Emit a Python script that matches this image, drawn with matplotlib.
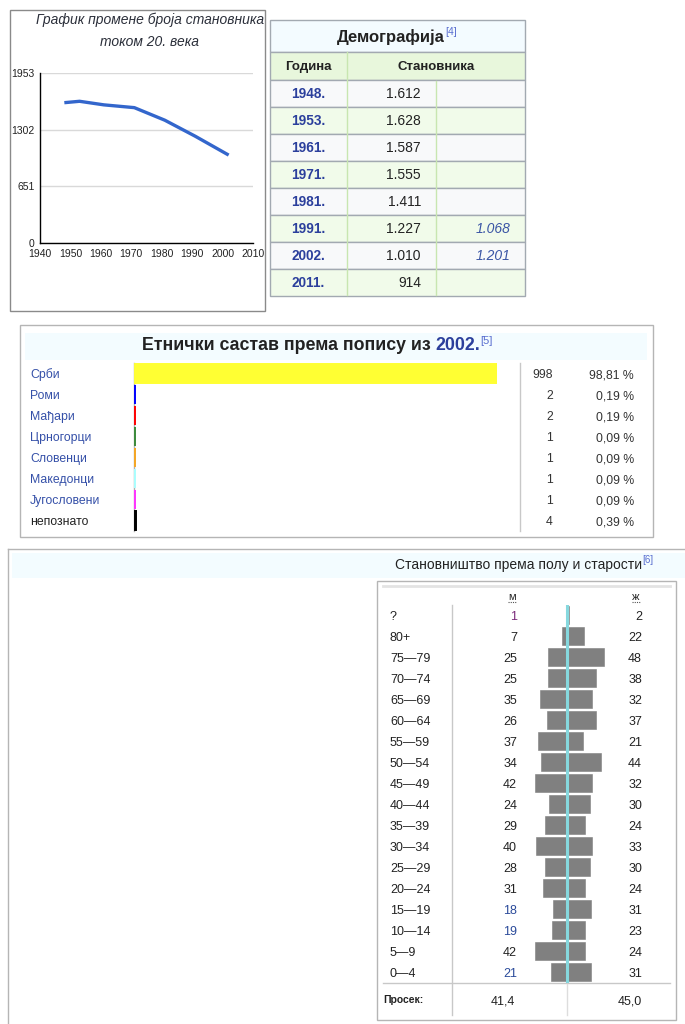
import matplotlib
matplotlib.use("Agg")
import matplotlib.pyplot as plt
from matplotlib.patches import Rectangle

plt.rcParams["font.family"] = ["Liberation Sans", "DejaVu Sans"]

W, H = 685, 1024

# population line chart
chart_years = [1948, 1953, 1961, 1971, 1981, 1991, 2002]
chart_population = [1612, 1628, 1587, 1555, 1411, 1227, 1010]
chart_yticks = [0, 651, 1302, 1953]
chart_xticks = [1940, 1950, 1960, 1970, 1980, 1990, 2000, 2010]

# demography table
census_years = ["1948.", "1953.", "1961.", "1971.", "1981.", "1991.", "2002.", "2011."]
census_population = ["1.612", "1.628", "1.587", "1.555", "1.411", "1.227", "1.010", "914"]
census_other = ["", "", "", "", "", "1.068", "1.201", ""]

# ethnic structure 2002
ethnic_groups = ["Срби", "Роми", "Мађари", "Црногорци", "Словенци", "Македонци", "Југословени", "непознато"]
ethnic_counts = [998, 2, 2, 1, 1, 1, 1, 4]
ethnic_shares = ["98,81 %", "0,19 %", "0,19 %", "0,09 %", "0,09 %", "0,09 %", "0,09 %", "0,39 %"]
ethnic_colors = ["#ffff33", "#0000ff", "#ff0000", "#3a8a3a", "#f5a623", "#aaffff", "#ff33ff", "#000000"]

# age / sex pyramid
age_groups = ["?", "80+", "75—79", "70—74", "65—69", "60—64", "55—59", "50—54", "45—49",
              "40—44", "35—39", "30—34", "25—29", "20—24", "15—19", "10—14", "5—9", "0—4"]
male = [1, 7, 25, 25, 35, 26, 37, 34, 42, 24, 29, 40, 28, 31, 18, 19, 42, 21]
female = [2, 22, 48, 38, 32, 37, 21, 44, 32, 30, 24, 33, 30, 24, 31, 23, 24, 31]
average_age = ["41,4", "45,0"]

LINK = "#3550a8"
TEXT = "#222222"
BORDER = "#a2a9b1"


def px_box(x0, y0, x1, y1):
    return [x0 / W, 1 - y1 / H, (x1 - x0) / W, (y1 - y0) / H]


fig = plt.figure(figsize=(W / 100, H / 100), dpi=100)
bg = fig.add_axes([0, 0, 1, 1])
bg.set_xlim(0, W)
bg.set_ylim(H, 0)
bg.axis("off")


def rect(x0, y0, x1, y1, fc="none", ec=BORDER, lw=1.0):
    bg.add_patch(Rectangle((x0, y0), x1 - x0, y1 - y0, facecolor=fc, edgecolor=ec, linewidth=lw))


# ---------------- line chart ----------------
rect(10, 10, 265, 311, ec="#8a8a8a")
bg.text(150, 20, "График промене броја становника", ha="center", va="center",
        fontsize=10, style="italic", color="#2b2f3a")
bg.text(150, 42, "током 20. века", ha="center", va="center",
        fontsize=10, style="italic", color="#2b2f3a")

ax = fig.add_axes(px_box(40, 73, 253, 243))
ax.set_facecolor("none")
ax.plot(chart_years, chart_population, color="#3366cc", linewidth=2.4, solid_capstyle="butt")
ax.set_xlim(1940, 2010)
ax.set_ylim(0, 1953)
ax.set_xticks(chart_xticks)
ax.set_yticks(chart_yticks)
ax.set_xticks([1940, 2010], minor=True)
ax.tick_params(axis="both", which="major", length=0, labelsize=7.5, colors=TEXT, pad=4)
ax.tick_params(axis="x", which="minor", length=4, color="black")
ax.grid(axis="y", color="#d9d9d9", linewidth=1)
ax.set_axisbelow(True)
for side in ["top", "right"]:
    ax.spines[side].set_visible(False)
for side in ["left", "bottom"]:
    ax.spines[side].set_color("black")
    ax.spines[side].set_linewidth(1)

# ---------------- demography table ----------------
tx0, tx1, tcol1, tcol2 = 270, 525, 347, 436
rect(tx0, 20, tx1, 52, fc="#f3fbff")
rect(tx0, 52, tx1, 80, fc="#e8f7dc")
t = bg.text(391, 37, "Демографија", ha="center", va="center", fontsize=12,
            fontweight="bold", color=TEXT)
bg.annotate("[4]", xy=(1, 0.5), xycoords=t, fontsize=7.5, color="#5a6fd0", va="bottom")
bg.text((tx0 + tcol1) / 2, 67, "Година", ha="center", va="center", fontsize=9.5,
        fontweight="bold", color=TEXT)
bg.text((tcol1 + tx1) / 2, 67, "Становника", ha="center", va="center", fontsize=9.5,
        fontweight="bold", color=TEXT)
bg.plot([tcol1, tcol1], [52, 80], color="#c8e6b0", linewidth=1)

row_h = 27
for i, (yr, pop, other) in enumerate(zip(census_years, census_population, census_other)):
    y0 = 80 + i * row_h
    fc = "#f8f9fa" if i % 2 == 0 else "#f1fbea"
    rect(tx0, y0, tx1, y0 + row_h, fc=fc)
    yb = y0 + row_h / 2 + 4.8
    bg.text((tx0 + tcol1) / 2, yb, yr, ha="center", va="baseline", fontsize=9.8,
            fontweight="bold", color="#2b3f9c")
    bg.text(421, yb, pop, ha="right", va="baseline", fontsize=10, color=TEXT)
    if other:
        bg.text(511, yb, other, ha="right", va="baseline", fontsize=10, style="italic", color="#3a55a5")
for xc in [tcol1, tcol2]:
    bg.plot([xc, xc], [81, 80 + 8 * row_h - 1], color="#c8e6b0", linewidth=1)

# ---------------- ethnic structure ----------------
rect(20, 325, 653, 537, ec="#b5b5b5")
bg.add_patch(Rectangle((25, 333), 622, 27, facecolor="#f3fcff", edgecolor="none"))
t1 = bg.text(142, 346, "Етнички састав према попису из ", ha="left", va="center",
             fontsize=12.8, fontweight="bold", color=TEXT)
t2 = bg.annotate("2002.", xy=(1, 0), xycoords=t1, va="bottom", fontsize=12.8,
                 fontweight="bold", color="#2b3f9c")
bg.annotate("[5]", xy=(1, 0.5), xycoords=t2, va="bottom", fontsize=8, color="#5a6fd0")

erow0, erow_h = 363, 21
for i, (grp, cnt, share) in enumerate(zip(ethnic_groups, ethnic_counts, ethnic_shares)):
    yb = erow0 + erow_h * (i + 0.5) + 4.8
    bg.text(30, yb, grp, ha="left", va="baseline", fontsize=8.8,
            color=TEXT if grp == "непознато" else LINK)
    bg.text(553, yb, str(cnt), ha="right", va="baseline", fontsize=8.8, color="#333333")
    bg.text(634, yb, share, ha="right", va="baseline", fontsize=8.8, color="#333333")
bg.plot([520, 520], [erow0, erow0 + 8 * erow_h], color="#c8c8c8", linewidth=1)

eax = fig.add_axes(px_box(134, erow0, 497, erow0 + 8 * erow_h))
eax.set_facecolor("none")
eax.barh(range(len(ethnic_counts)), ethnic_counts, height=0.86, color=ethnic_colors,
         edgecolor=ethnic_colors, linewidth=1.4)
eax.set_xlim(-1.5, 998)
eax.set_ylim(len(ethnic_counts) - 0.5, -0.5)
eax.set_xticks([])
eax.set_yticks([])
for side in ["top", "right", "bottom", "left"]:
    eax.spines[side].set_visible(False)
bg.plot([134, 134], [erow0, erow0 + 8 * erow_h], color="#b0b0b0", linewidth=1)

# ---------------- population pyramid ----------------
bg.plot([8, 685], [549, 549], color="#b5b5b5", linewidth=1)
bg.plot([8, 8], [549, 1024], color="#b5b5b5", linewidth=1)
bg.add_patch(Rectangle((12, 553), 673, 25, facecolor="#f3fcff", edgecolor="none"))
t3 = bg.text(642, 565, "Становништво према полу и старости", ha="right", va="center",
             fontsize=10, color=TEXT)
bg.annotate("[6]", xy=(1, 0.5), xycoords=t3, va="bottom", fontsize=7, color="#5a6fd0")

rect(377, 581, 676, 1020, ec="#b5b5b5")
bg.plot([383, 670], [586, 586], color="#e3e3e3", linewidth=2)
bg.text(512, 597, "м", ha="center", va="center", fontsize=8, color=TEXT)
bg.text(636, 597, "ж", ha="center", va="center", fontsize=8, color=TEXT)
bg.plot([508, 516], [602, 602], color="#555555", linewidth=0.8, linestyle=(0, (1, 1)))
bg.plot([632, 640], [602, 602], color="#555555", linewidth=0.8, linestyle=(0, (1, 1)))
bg.plot([452, 452], [605, 1015], color="#c8c8c8", linewidth=1)
bg.plot([383, 670], [983, 983], color="#c8c8c8", linewidth=1)
bg.plot([567, 567], [984, 1015], color="#dddddd", linewidth=1)

prow0, prow_h = 604.5, 21
num_colors = {0: "#7a2a7a", 14: "#2a4a9a", 15: "#2a4a9a", 17: "#2a4a9a"}
for i, (age, m, f) in enumerate(zip(age_groups, male, female)):
    yb = prow0 + prow_h * (i + 0.5) + 4.8
    bg.text(390, yb, age, ha="left", va="baseline", fontsize=9, color=TEXT)
    bg.text(517, yb, str(m), ha="right", va="baseline", fontsize=9,
            color=num_colors.get(i, TEXT))
    bg.text(642, yb, str(f), ha="right", va="baseline", fontsize=9, color=TEXT)

bg.text(383, 1000, "Просек:", ha="left", va="center", fontsize=7.5, fontweight="bold", color=TEXT)
bg.text(503, 1004.3, average_age[0], ha="center", va="baseline", fontsize=9, color=TEXT)
bg.text(630, 1004.3, average_age[1], ha="center", va="baseline", fontsize=9, color=TEXT)

pax = fig.add_axes(px_box(520, prow0, 614, prow0 + prow_h * len(age_groups)))
pax.set_facecolor("none")
rows = range(len(age_groups))
pax.barh(rows, [-v for v in male], height=0.87, color="#808080", edgecolor="#808080", linewidth=0.4)
pax.barh(rows, female, height=0.87, color="#808080", edgecolor="#808080", linewidth=0.4)
pax.axvline(0, color="#86d8de", linewidth=2.2)
pax.set_xlim(-61, 61)
pax.set_ylim(len(age_groups) - 0.5, -0.5)
pax.axis("off")

fig.savefig("out.png", dpi=100)
